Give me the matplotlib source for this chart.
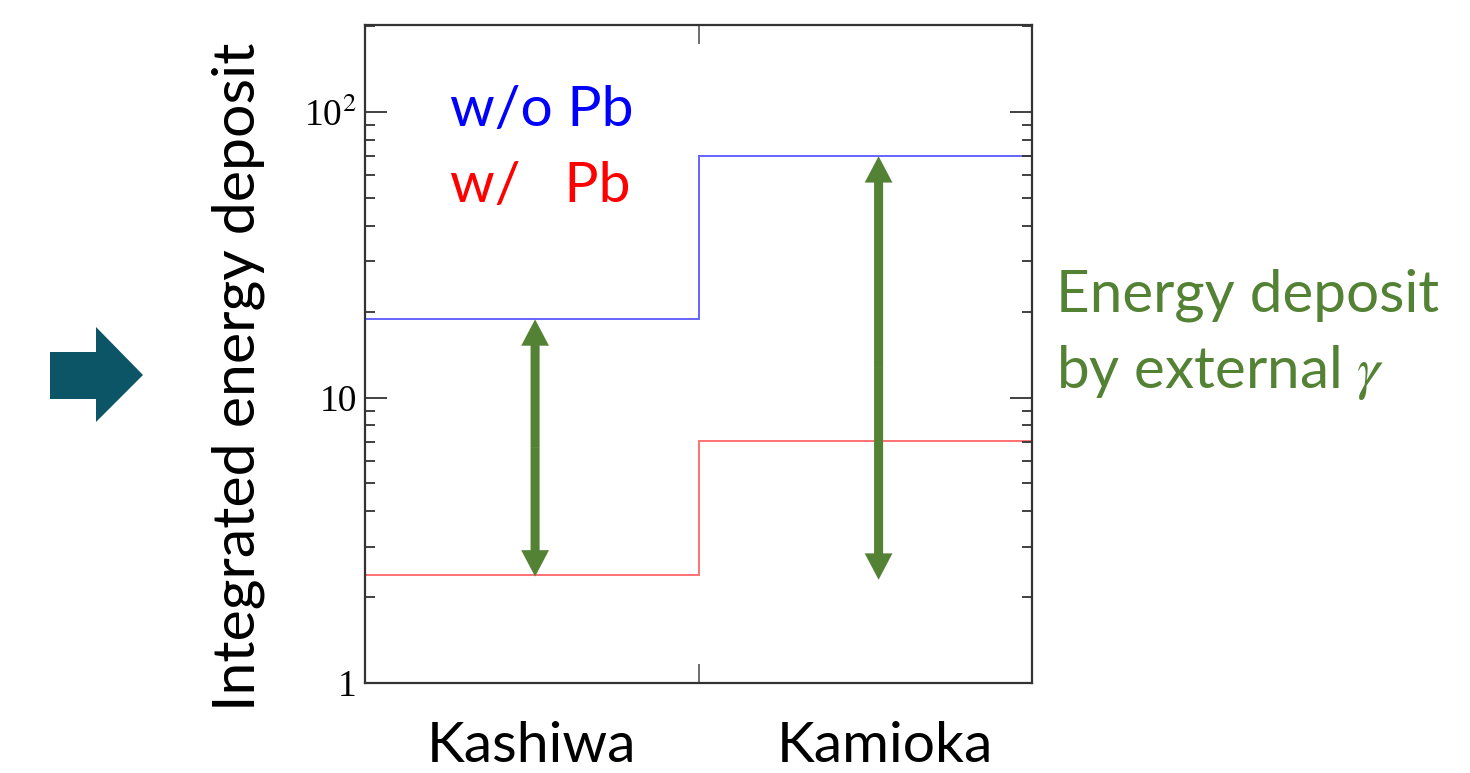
"""Integrated energy deposit at Kashiwa and Kamioka, with and without Pb shield."""

import matplotlib

matplotlib.use("Agg")
import matplotlib.pyplot as plt
from matplotlib.patches import Polygon

# values
sites = ["Kashiwa", "Kamioka"]
bin_edges = [0, 1, 2]
deposit_without_pb = [18.8, 70.1]
deposit_with_pb = [2.39, 7.07]

# double arrows marking the external-gamma contribution
arrow_x = [0.51, 1.54]
arrow_low = [2.36, 2.30]
arrow_high = [18.8, 70.1]

GREEN = "#548235"
TEAL = "#0b5567"
FRAME = "#333333"
SANS = ["Lato", "DejaVu Sans"]
SERIF = ["Liberation Serif", "DejaVu Serif"]

plt.rcParams["mathtext.fontset"] = "stix"

fig = plt.figure(figsize=(14.7, 7.73), dpi=100)
ax = fig.add_axes([365 / 1470, 90 / 773, 667 / 1470, 658 / 773])

ax.stairs(deposit_without_pb, bin_edges, baseline=None, color="#3d3dff", lw=1.4, alpha=0.8)
ax.stairs(deposit_with_pb, bin_edges, baseline=None, color="#ff4d4d", lw=1.4, alpha=0.8)

ax.set_yscale("log")
ax.set_ylim(1, 202)
ax.set_xlim(0, 2)

for x, lo, hi in zip(arrow_x, arrow_low, arrow_high):
    mid = (lo * hi) ** 0.5
    for tip in (lo, hi):
        ax.annotate(
            "", xy=(x, tip), xytext=(x, mid),
            arrowprops=dict(
                arrowstyle="simple,head_length=19,head_width=20,tail_width=6.5",
                mutation_scale=1, lw=0, color=GREEN, shrinkA=0, shrinkB=0,
            ),
        )

for spine in ax.spines.values():
    spine.set_color(FRAME)
    spine.set_linewidth(1.6)

ax.set_xticks([1])
ax.set_xticklabels([])
ax.tick_params(axis="x", which="major", direction="in", top=True, bottom=True,
               length=14, width=1.2, color="#555555")
ax.tick_params(axis="y", which="major", direction="in", left=True, right=True,
               length=16, width=1.3, color=FRAME, labelsize=27, pad=6)
ax.tick_params(axis="y", which="minor", direction="in", left=True, right=True,
               length=7.5, width=1.3, color=FRAME)
ax.set_yticks([1, 10, 100])
ax.set_yticklabels(["1", "10", "10$^2$"])
for label in ax.get_yticklabels():
    label.set_family(SERIF)

for x, name in zip([0.50, 1.56], sites):
    ax.text(x, -0.120, name, transform=ax.get_xaxis_transform(), ha="center", va="baseline",
            fontsize=41, family=SANS, color="black")

fig.text(238 / 1470, 1 - 377 / 773, "Integrated energy deposit", rotation=90,
         ha="center", va="center", fontsize=42.5, family=SANS, color="black")

ax.text(0.128, 0.87, "w/o Pb", transform=ax.transAxes, fontsize=41, family=SANS,
        color="#0000ff", ha="left", va="center")
ax.text(0.128, 0.755, "w/   Pb", transform=ax.transAxes, fontsize=41, family=SANS,
        color="#ff0000", ha="left", va="center")

fig.text(1056 / 1470, 1 - 295 / 773, "Energy deposit", fontsize=42, family=SANS,
         color=GREEN, ha="left", va="center")
fig.text(1056 / 1470, 1 - 372 / 773, "by external $\\gamma$", fontsize=42, family=SANS,
         color=GREEN, ha="left", va="center")

# teal block arrow on the left
block = [(50, 352), (96, 352), (96, 327), (143, 375), (96, 422), (96, 399), (50, 399)]
block = [(px / 1470, 1 - py / 773) for px, py in block]
fig.patches.append(Polygon(block, closed=True, transform=fig.transFigure,
                           facecolor=TEAL, edgecolor="none"))

fig.savefig("out.png", dpi=100)
